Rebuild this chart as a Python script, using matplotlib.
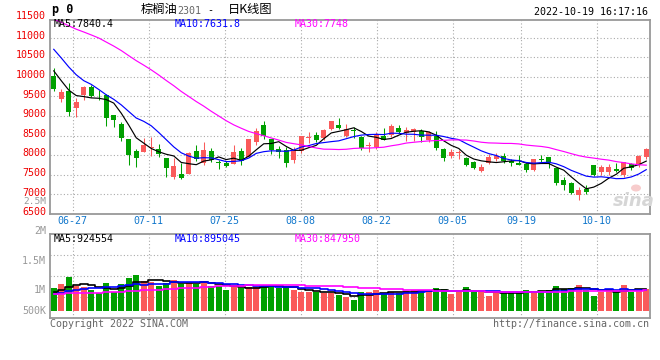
import numpy as np
import pandas as pd
import matplotlib
matplotlib.use("Agg")
import matplotlib.pyplot as plt
from matplotlib import transforms
from matplotlib.patches import Ellipse

# ---------------- data ----------------
opens = [10017, 9440, 9643, 9210, 9532, 9736, 9565, 9532, 9022, 8793,
         8410, 8105, 8087, 8175, 8155, 7935, 7450, 7518, 7518, 8105,
         7810, 8110, 7810, 7810, 7780, 8105, 7957, 8330, 8772, 8405,
         8145, 8140, 7870, 8115, 8430, 8515, 8440, 8670, 8775, 8500,
         8650, 8475, 8240, 8200, 8490, 8520, 8690, 8560, 8580, 8620,
         8390, 8490, 8170, 7985, 8050, 7940, 7830, 7590, 7812, 7900,
         7975, 7850, 7810, 7770, 7615, 7900, 7955, 7675, 7360, 7290,
         6975, 7145, 7745, 7575, 7575, 7640, 7505, 7785, 7745, 7960]
highs = [10230, 9680, 9830, 9450, 9770, 9780, 9660, 9550, 9030, 8850,
         8415, 8155, 8445, 8470, 8275, 7940, 7920, 7790, 8080, 8260,
         8345, 8190, 7880, 7860, 8257, 8190, 8415, 8690, 8878, 8415,
         8230, 8200, 8200, 8495, 8600, 8600, 8660, 8880, 8960, 8800,
         8710, 8480, 8340, 8600, 8690, 8800, 8775, 8715, 8690, 8660,
         8620, 8620, 8175, 8145, 8130, 7945, 7855, 7785, 8025, 8060,
         8045, 7915, 8000, 7790, 7915, 8000, 7960, 7680, 7445, 7315,
         7190, 7230, 7750, 7745, 7785, 7810, 7835, 7810, 8000, 8190]
lows = [9640, 9365, 9000, 8980, 9405, 9490, 9405, 8750, 8725, 8370,
        7750, 7700, 8080, 7985, 7960, 7450, 7380, 7400, 7515, 7850,
        7760, 7820, 7660, 7700, 7775, 7740, 7945, 8270, 8405, 8020,
        7930, 7705, 7800, 8060, 8300, 8340, 8385, 8640, 8680, 8460,
        8450, 8130, 8090, 8145, 8380, 8460, 8575, 8350, 8355, 8340,
        8340, 8130, 7855, 7930, 7900, 7725, 7660, 7570, 7786, 7855,
        7790, 7720, 7750, 7575, 7590, 7830, 7685, 7230, 7100, 7000,
        6850, 7020, 7460, 7505, 7485, 7570, 7445, 7615, 7700, 7915]
closes = [9685, 9600, 9107, 9345, 9736, 9515, 9555, 8940, 8895, 8445,
          8000, 7935, 8258, 8215, 8028, 7680, 7722, 7425, 8060, 7900,
          8140, 7880, 7800, 7720, 8080, 7860, 8410, 8615, 8488, 8120,
          8090, 7800, 8120, 8490, 8455, 8385, 8645, 8860, 8690, 8665,
          8630, 8175, 8270, 8540, 8390, 8750, 8600, 8645, 8665, 8460,
          8600, 8175, 7930, 8085, 8065, 7745, 7685, 7700, 7957, 7975,
          7845, 7790, 7755, 7615, 7890, 7890, 7790, 7290, 7230, 7035,
          7100, 7060, 7505, 7700, 7700, 7600, 7830, 7685, 7975, 8155]
volumes = [961000, 1144000, 1441000, 1074000, 1017000, 890000, 749000, 1187000, 819000, 1158000,
           1399000, 1526000, 1271000, 1215000, 1060000, 1201000, 1314000, 1130000, 1201000, 1158000,
           1271000, 1074000, 1045000, 890000, 1045000, 961000, 1031000, 1031000, 1102000, 1074000,
           989000, 989000, 890000, 819000, 819000, 819000, 749000, 749000, 664000, 607000,
           466000, 819000, 819000, 890000, 777000, 819000, 749000, 862000, 890000, 819000,
           819000, 961000, 932000, 720000, 791000, 1017000, 819000, 819000, 650000, 791000,
           749000, 791000, 819000, 890000, 862000, 862000, 890000, 1060000, 932000, 975000,
           1116000, 890000, 650000, 819000, 932000, 819000, 1102000, 819000, 932000, 932000]
# sessions before the first visible bar (only feed the moving averages)
prior_closes = [11700, 11820, 11950, 11880, 11760, 11900, 12050, 11980, 11850, 11920,
                11760, 11690, 11830, 11950, 11880, 11720, 11800, 11900, 11780, 11680,
                11800, 11407, 11345, 11236, 10462, 10850, 10307, 10045, 9863]
prior_volumes = [700000, 740000, 680000, 720000, 760000, 690000, 710000, 730000, 670000, 700000,
                 720000, 750000, 690000, 710000, 680000, 730000, 700000, 720000, 690000, 710000,
                 620000, 580000, 610000, 590000, 600000, 760000, 800000, 790000, 790000]

# moving-average readouts shown in the chart legends
ma_price_text = ["MA5:7840.4", "MA10:7631.8", "MA30:7748"]
ma_vol_text = ["MA5:924554", "MA10:895045", "MA30:847950"]

tick_labels = ["06-27", "07-11", "07-25", "08-08", "08-22", "09-05", "09-19", "10-10"]
tick_index = [3, 13, 23, 33, 43, 53, 62, 72]
price_levels = [6500, 7000, 7500, 8000, 8500, 9000, 9500, 10000, 10500, 11000, 11500]
vol_labels = ["2M", "1.5M", "1M", "500K"]

# ---------------- helpers ----------------
W, H = 660, 360
fig = plt.figure(figsize=(6.6, 3.6), dpi=100)
fig.patch.set_facecolor("white")
MONO = "DejaVu Sans Mono"
CJK = ["Noto Sans CJK SC", "DejaVu Sans"]
RED = "#fa5a5a"
GREEN = "#00a000"
GRID = "#aaaaaa"
FRAME = "#999999"
MA_COLORS = ["black", "#0000ff", "#ff00ff"]


def fx(px):
    return px / W


def fy(py):
    return 1 - py / H


def ptext(px, py, s, **kw):
    kw.setdefault("family", MONO)
    kw.setdefault("fontsize", 7.2)
    kw.setdefault("va", "center")
    fig.text(fx(px), fy(py), s, **kw)


n = len(closes)
x = np.arange(n)
o = np.array(opens, float)
c = np.array(closes, float)
hi = np.array(highs, float)
lo = np.array(lows, float)
up = c >= o
colors = np.where(up, RED, GREEN)


def ma(prior, vals, k):
    s = pd.Series(list(prior) + list(vals), dtype=float)
    return s.rolling(k).mean().values[-len(vals):]


ma_price = [ma(prior_closes, closes, k) for k in (5, 10, 30)]
ma_vol = [ma(prior_volumes, volumes, k) for k in (5, 10, 30)]

grid_x = [-0.5 + i * n / (n - 1) for i in tick_index]

# ---------------- price panel ----------------
ax = fig.add_axes([fx(50), fy(214), 600 / W, (214 - 19.5) / H])
ax.set_xlim(-0.5, n - 0.5)
ax.set_ylim(6500, 11460)
for yv in price_levels[1:-1]:
    ax.axhline(yv, color=GRID, lw=0.8, ls=(0, (1, 2)), zorder=0)
for gx in grid_x:
    ax.axvline(gx, color=GRID, lw=0.8, ls=(0, (1, 2)), zorder=0)

ax.vlines(x, lo, hi, colors=colors, lw=0.75, zorder=2)
body_h = np.maximum(np.abs(c - o), 22)
body_b = np.where(np.abs(c - o) < 22, (o + c) / 2 - 11, np.minimum(o, c))
ax.bar(x, body_h, bottom=body_b, width=0.67, color=colors, lw=0, zorder=3)

for line, col in zip(ma_price, MA_COLORS):
    ax.plot(x, line, color=col, lw=0.85, zorder=4)

ax.set_xticks([])
ax.set_yticks([])
for sp in ax.spines.values():
    sp.set_color(FRAME)
    sp.set_linewidth(1.3)

ylab_tr = transforms.offset_copy(
    transforms.blended_transform_factory(ax.transAxes, ax.transData),
    fig=fig, x=-4, y=1.8, units="dots")
for yv in price_levels:
    ax.text(0, yv, str(yv), transform=ylab_tr, ha="right", va="center",
            color="#ee0000", family=MONO, fontsize=7.2, clip_on=False)

date_tr = transforms.blended_transform_factory(ax.transData, fig.transFigure)
for gx, lab in zip(grid_x, tick_labels):
    ax.text(gx, fy(221.5), lab, transform=date_tr, ha="center", va="center",
            color="#1177cc", family=MONO, fontsize=7.2, clip_on=False)

# watermark
fig.patches.append(Ellipse((fx(636), fy(188)), 10 / W, 7 / H, transform=fig.transFigure,
                           facecolor="#f7cccc", edgecolor="none", zorder=5))
ptext(634, 201, "sina", family="DejaVu Sans", fontsize=13, fontweight="bold",
      fontstyle="italic", color="#d6d6d6", ha="center", zorder=5)

# ---------------- volume panel ----------------
axv = fig.add_axes([fx(50), fy(318), 600 / W, 84 / H])
axv.set_xlim(-0.5, n - 0.5)
axv.set_ylim(-0.297e6, 3.263e6)
for f in (0.25, 0.5, 0.75):
    axv.plot([0, 1], [f, f], transform=axv.transAxes, color=GRID, lw=0.8,
             ls=(0, (1, 2)), zorder=0)
for gx in grid_x:
    axv.axvline(gx, color=GRID, lw=0.8, ls=(0, (1, 2)), zorder=0)
axv.bar(x, volumes, width=0.8, color=colors, lw=0, zorder=2)
for line, col in zip(ma_vol, MA_COLORS):
    axv.plot(x, line, color=col, lw=1.2, drawstyle="steps-mid", zorder=3)
axv.set_xticks([])
axv.set_yticks([])
for sp in axv.spines.values():
    sp.set_color(FRAME)
    sp.set_linewidth(1.3)

for lab, py in zip(vol_labels, (231, 261, 290, 311)):
    ptext(46, py, lab, ha="right", color="#999999")
ptext(46, 201.5, "2.5M", ha="right", color="#999999", fontsize=6.8)

# ---------------- texts ----------------
ptext(52, 10, "p 0", fontsize=8.5, fontweight="bold", color="black")
ptext(141, 10, "棕榈油", family=CJK, fontsize=8.8, color="black")
ptext(177.5, 10.5, "2301", color="#666666")
ptext(207, 10, "-", color="black")
ptext(228, 10, "日K线图", family=CJK, fontsize=8.8, color="black")
ptext(648, 12, "2022-10-19 16:17:16", ha="right", color="black")

for s, px, col in zip(ma_price_text, (54, 175, 295), MA_COLORS):
    ptext(px, 24, s, color=col)
for s, px, col in zip(ma_vol_text, (54, 175, 295), MA_COLORS):
    ptext(px, 238.5, s, color=col)

ptext(50, 324, "Copyright 2022 SINA.COM", ha="left", color="#666666")
ptext(649, 324, "http://finance.sina.com.cn", ha="right", color="#666666")

fig.savefig("out.png", dpi=100, facecolor="white")
